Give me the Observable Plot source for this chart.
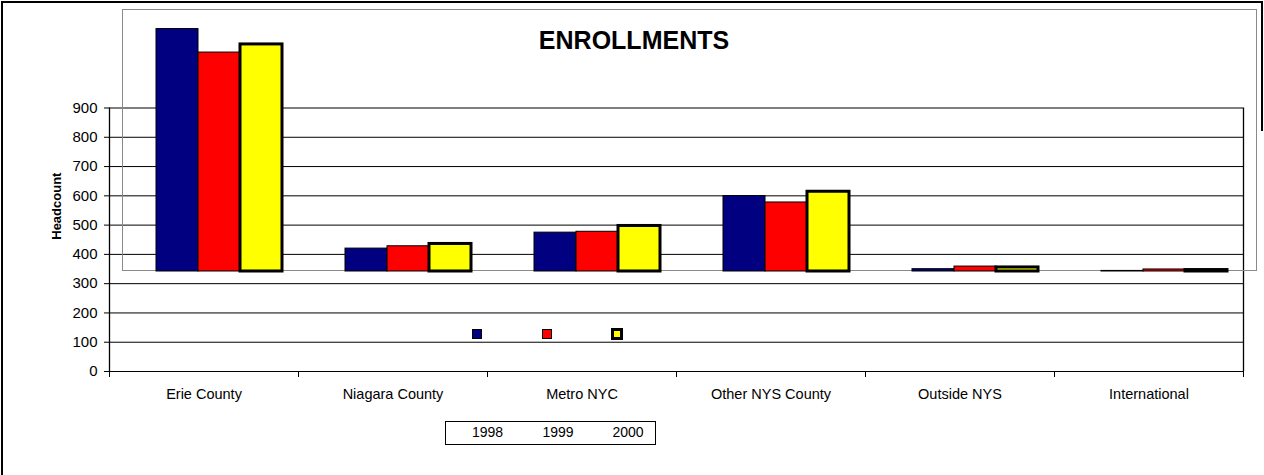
<!DOCTYPE html>
<html>
<head>
<meta charset="utf-8">
<script src="https://cdn.jsdelivr.net/npm/d3@7"></script>
<script src="https://cdn.jsdelivr.net/npm/@observablehq/plot@0.6"></script>
<style>
  html, body { margin: 0; padding: 0; background: #fff; }
  #wrap { position: relative; width: 1264px; height: 475px; overflow: hidden; font-family: "Liberation Sans", Arial, sans-serif; }
  #wrap > * { position: absolute; }
</style>
</head>
<body>
<div id="wrap"></div>
<script>
// ---- data ----
const categories = ["Erie County", "Niagara County", "Metro NYC", "Other NYS County", "Outside NYS", "International"];
const years = ["1998", "1999", "2000"];
const v1998 = [836, 79, 134, 260, 8, 2];
const v1999 = [755, 87, 137, 238, 17, 7];
const v2000 = [783, 95, 157, 275, 14, 5];
const yTicks = [0, 100, 200, 300, 400, 500, 600, 700, 800, 900];
const title = "ENROLLMENTS";
const yLabel = "Headcount";

const colors = {"1998": "#000080", "1999": "#FF0000", "2000": "#FFFF00"};
const strokeW = {"1998": 1, "1999": 1, "2000": 3};

const rows = [];
categories.forEach((c, i) => {
  rows.push({category: c, year: "1998", value: v1998[i]});
  rows.push({category: c, year: "1999", value: v1999[i]});
  rows.push({category: c, year: "2000", value: v2000[i]});
});

const wrap = document.getElementById("wrap");
const font = '"Liberation Sans", Arial, sans-serif';

// ---- main chart (axes + grid) ----
const boundaries = d3.range(0, categories.length + 1);
const centers = categories.map((_, i) => i + 0.5);
const main = Plot.plot({
  width: 1264, height: 475,
  marginLeft: 109, marginRight: 21, marginTop: 107.5, marginBottom: 104,
  style: {fontFamily: font, fontSize: "14px", color: "#000", background: "transparent"},
  x: {domain: [0, categories.length], axis: null},
  y: {domain: [0, 900], axis: null},
  marks: [
    Plot.ruleY(yTicks, {stroke: "#000", strokeWidth: 1}),
    Plot.ruleX([0, categories.length], {y1: 0, y2: 900, stroke: "#000", strokeWidth: 1.3}),
    Plot.axisY({ticks: yTicks, tickSize: 5, tickPadding: 7, fontSize: 15, label: null, stroke: "#000"}),
    Plot.axisX({ticks: boundaries, tickSize: 6, tickFormat: () => "", label: null, stroke: "#000"}),
    Plot.axisX({ticks: centers, tickSize: 0, tickPadding: 17, tickFormat: d => categories[Math.floor(d)], fontSize: 14.5, label: null}),
    Plot.text([yLabel], {frameAnchor: "left", rotate: -90, dx: -53, fontWeight: "bold", fontSize: 13, fill: "#000"})
  ]
});
main.style.left = "0px"; main.style.top = "0px";
wrap.appendChild(main);

// ---- gray box of the inner chart area ----
const box = document.createElement("div");
Object.assign(box.style, {left: "122px", top: "9px", width: "1135px", height: "262px", border: "1px solid #8a8a8a", boxSizing: "border-box"});
wrap.appendChild(box);

// ---- bars overlay ----
const M = 8;
const bars = Plot.plot({
  width: 1135 + 2 * M, height: 261 + 2 * M,
  marginLeft: M, marginRight: M, marginTop: M, marginBottom: M,
  style: {background: "transparent", overflow: "visible"},
  fx: {domain: categories, paddingInner: 0.33, paddingOuter: 0.165, axis: null, label: null},
  x: {domain: years, padding: 0, axis: null},
  y: {domain: [0, 900], axis: null},
  marks: [
    Plot.barY(rows, {fx: "category", x: "year", y: "value", fill: d => colors[d.year], stroke: "#000", strokeWidth: d => strokeW[d.year], insetLeft: 0, insetRight: 0})
  ]
});
bars.style.left = (122 - M + 0.5) + "px"; bars.style.top = (9.5 - M) + "px";
wrap.appendChild(bars);

// ---- title ----
const t = document.createElement("div");
t.textContent = title;
Object.assign(t.style, {left: "534px", top: "26px", width: "200px", textAlign: "center", fontWeight: "bold", fontSize: "25px", fontFamily: font, color: "#000"});
wrap.appendChild(t);

// ---- detached legend keys ----
const keyPos = [[472, 329, 10, 1], [542, 329, 10, 1], [611, 328, 12, 3]];
years.forEach((y, i) => {
  const k = document.createElement("div");
  const [x0, y0, s, b] = keyPos[i];
  Object.assign(k.style, {left: x0 + "px", top: y0 + "px", width: s + "px", height: s + "px", background: colors[y], border: b + "px solid #000", boxSizing: "border-box"});
  wrap.appendChild(k);
});

// ---- legend box ----
const lb = document.createElement("div");
Object.assign(lb.style, {left: "445px", top: "421px", width: "211px", height: "24px", border: "1px solid #000", boxSizing: "border-box"});
wrap.appendChild(lb);
const labelCenters = [487.5, 558, 628];
years.forEach((y, i) => {
  const s = document.createElement("div");
  s.textContent = y;
  Object.assign(s.style, {left: (labelCenters[i] - 25) + "px", top: "424px", width: "50px", textAlign: "center", fontSize: "14px", fontFamily: font, color: "#000", lineHeight: "17px"});
  wrap.appendChild(s);
});

// ---- outer frame ----
const frameTop = document.createElement("div");
Object.assign(frameTop.style, {left: "1px", top: "1px", width: "1262px", height: "2px", background: "#000"});
wrap.appendChild(frameTop);
const frameLeft = document.createElement("div");
Object.assign(frameLeft.style, {left: "1px", top: "1px", width: "2px", height: "474px", background: "#000"});
wrap.appendChild(frameLeft);
const frameRight = document.createElement("div");
Object.assign(frameRight.style, {left: "1261px", top: "1px", width: "2px", height: "130px", background: "#000"});
wrap.appendChild(frameRight);
</script>
</body>
</html>
